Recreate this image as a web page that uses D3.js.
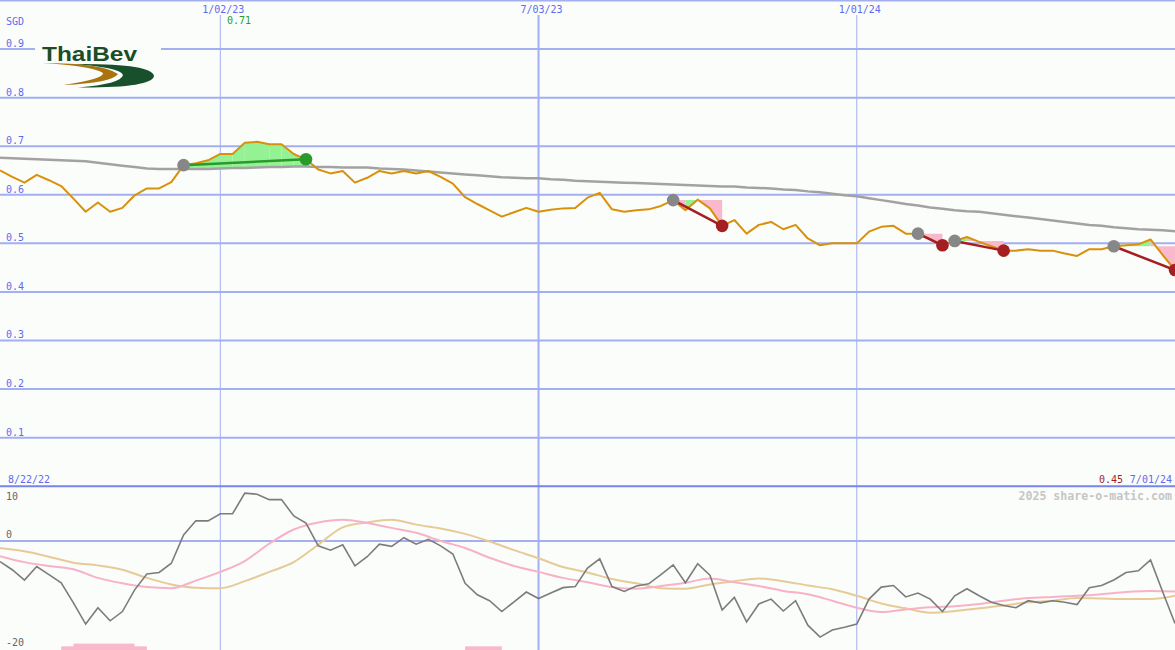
<!DOCTYPE html>
<html><head><meta charset="utf-8">
<script src="https://cdn.jsdelivr.net/npm/d3@7"></script>
<style>html,body{margin:0;padding:0;background:#fbfdfb;}svg{display:block;}</style>
</head><body>
<svg id="c" width="1175" height="650"></svg>
<script>
// ---------- data ----------
const firstWeek = "2022-08-29";
const lastWeek = "2024-07-01";
const firstLabel = "8/22/22";
const lastLabel = "7/01/24";
const currency = "SGD";

const price = [
0.650,0.637,0.625,0.641,0.630,0.618,0.592,0.565,0.584,0.565,
0.573,0.599,0.613,0.613,0.626,0.661,0.665,0.671,0.684,0.684,
0.707,0.709,0.704,0.704,0.684,0.673,0.652,0.644,0.649,0.625,
0.635,0.649,0.644,0.649,0.644,0.649,0.637,0.623,0.595,0.581,
0.568,0.555,0.564,0.573,0.565,0.569,0.572,0.573,0.594,0.604,
0.570,0.565,0.568,0.570,0.577,0.589,0.568,0.590,0.572,0.536,
0.548,0.520,0.538,0.544,0.529,0.538,0.510,0.496,0.500,0.500,
0.500,0.524,0.534,0.536,0.520,0.520,0.509,0.496,0.505,0.513,
0.503,0.494,0.485,0.485,0.488,0.485,0.485,0.479,0.474,0.488,
0.488,0.494,0.496,0.498,0.508,0.476,0.445];

const movingAvg = [
0.676,0.675,0.674,0.673,0.672,0.671,0.670,0.669,0.666,0.663,
0.660,0.657,0.654,0.653,0.653,0.653,0.653,0.653,0.654,0.655,
0.655,0.656,0.657,0.657,0.658,0.658,0.657,0.657,0.656,0.656,
0.656,0.654,0.653,0.652,0.650,0.648,0.646,0.644,0.642,0.640,
0.638,0.636,0.635,0.634,0.634,0.632,0.631,0.629,0.628,0.627,
0.626,0.625,0.624,0.623,0.622,0.621,0.620,0.619,0.618,0.617,
0.617,0.615,0.614,0.613,0.611,0.610,0.607,0.605,0.602,0.599,
0.597,0.593,0.589,0.585,0.581,0.578,0.574,0.571,0.568,0.566,
0.565,0.562,0.559,0.556,0.553,0.550,0.547,0.544,0.541,0.538,
0.536,0.533,0.531,0.529,0.528,0.527,0.525];

const oscillator = [
-3.8,-5.3,-7.2,-4.7,-6.2,-7.7,-11.4,-15.3,-12.3,-14.7,
-13.0,-9.0,-6.1,-5.8,-4.1,1.1,3.7,3.7,5.0,5.0,
8.8,8.6,7.6,7.6,4.6,3.3,-0.9,-1.7,-0.7,-4.6,
-2.9,-0.6,-1.0,0.6,-0.6,0.3,-0.9,-2.4,-7.8,-9.9,
-11.0,-13.0,-11.2,-9.4,-10.6,-9.6,-8.6,-8.4,-5.0,-3.3,
-8.4,-9.3,-8.3,-7.9,-6.2,-4.4,-7.7,-4.2,-6.3,-12.7,
-10.4,-14.9,-11.6,-10.7,-12.9,-11.0,-15.5,-17.7,-16.4,-15.9,
-15.3,-10.7,-8.5,-8.2,-10.3,-9.6,-10.7,-13.0,-10.1,-8.8,
-10.1,-11.3,-11.9,-12.3,-11.0,-11.4,-11.0,-11.3,-11.7,-8.6,
-8.2,-7.2,-5.8,-5.5,-3.5,-9.4,-15.2];

// fortnightly readings of the two smoothed lines
const signalPink = [-2.8,-3.9,-4.6,-5.2,-6.8,-7.8,-8.5,-8.7,-7.3,-5.7,-3.7,-0.5,2.1,3.4,3.9,3.3,2.4,1.5,0.0,-1.3,
-3.1,-4.6,-5.7,-6.8,-7.6,-8.5,-8.8,-8.3,-7.7,-6.9,-7.6,-8.3,-9.2,-9.8,-11.0,-12.3,-13.1,-12.6,-12.2,-12.0,
-11.6,-11.0,-10.5,-10.3,-10.1,-9.8,-9.4,-9.2,-9.3];
const signalTan = [-1.3,-1.9,-2.9,-4.0,-4.5,-5.3,-6.8,-8.0,-8.6,-8.7,-7.4,-5.7,-3.9,-0.7,2.5,3.4,3.9,3.0,2.3,1.3,
-0.1,-1.7,-3.2,-4.8,-5.8,-7.0,-7.8,-8.7,-8.8,-8.0,-7.4,-6.9,-7.4,-8.2,-8.9,-10.1,-11.5,-12.4,-13.2,-12.9,
-12.4,-11.9,-11.3,-11.0,-10.5,-10.6,-10.7,-10.7,-10.1];

const priceTicks = [0.1,0.2,0.3,0.4,0.5,0.6,0.7,0.8,0.9];
const oscTicks = [10,0,-20];
const dateTicks = ["2023-01-02","2023-07-03","2024-01-01"];
const dateTickLabels = ["1/02/23","7/03/23","1/01/24"];
const dateTickWidths = [1,2,1];

const tradeEntry = ["2022-12-12","2023-09-18","2024-02-05","2024-02-26","2024-05-27"];
const tradeExit  = ["2023-02-20","2023-10-16","2024-02-19","2024-03-25","2024-07-01"];

const barStart = ["2022-10-03","2022-10-10","2023-05-22"];
const barEnd   = ["2022-11-21","2022-11-14","2023-06-12"];
const barTop   = [-19.4,-18.9,-19.4];

// ---------- scales ----------
const W = 1175, H = 650;
const parse = d3.utcParse("%Y-%m-%d");
const iso = d3.utcFormat("%Y-%m-%d");
const weeks = d3.utcMonday.range(parse(firstWeek), d3.utcDay.offset(parse(lastWeek), 1));
const idx = new Map(weeks.map((d,i)=>[iso(d), i]));
const x = d3.scaleUtc().domain([parse(firstWeek), parse(lastWeek)]).range([0, W]);
const yP = d3.scaleLinear().domain([0, 1]).range([486.2, 0.5]);
const yO = d3.scaleLinear().domain([-20, 10]).range([649.6, 486.6]);

const svg = d3.select("#c");
const font = "DejaVu Sans Mono, monospace";
const grid = "#a3aff0", blue = "#5b6cf0", bg = "#fbfdfb";

svg.append("rect").attr("width", W).attr("height", H).attr("fill", bg);

// horizontal grid
svg.append("g").selectAll("line").data(priceTicks.concat([1])).join("line")
  .attr("x1", 0).attr("x2", W).attr("y1", d=>yP(d)).attr("y2", d=>yP(d))
  .attr("stroke", grid).attr("stroke-width", 2);
svg.append("line").attr("x1",0).attr("x2",W).attr("y1",yO(0)).attr("y2",yO(0))
  .attr("stroke", grid).attr("stroke-width", 2);

// vertical date lines
svg.append("g").selectAll("line").data(dateTicks).join("line")
  .attr("x1", d=>x(parse(d))).attr("x2", d=>x(parse(d)))
  .attr("y1", 15).attr("y2", H)
  .attr("stroke", grid).attr("stroke-width", (d,i)=>dateTickWidths[i]);

// separator between panels
svg.append("line").attr("x1",0).attr("x2",W).attr("y1",yP(0)).attr("y2",yP(0))
  .attr("stroke", "#7784ea").attr("stroke-width", 2);

// ---------- logo ----------
const logo = svg.append("g");
logo.append("rect").attr("x",35).attr("y",38).attr("width",126).attr("height",54).attr("fill",bg);
logo.append("path").attr("d","M70,64 Q152,63 154,76 Q152,88 78,87.5 Q121,84 123,75 Q120,67 70,64 Z").attr("fill","#17502a");
logo.append("path").attr("d","M42,63 Q103,63 118,74 Q112,83 63,85 Q104,79 103,73 Q92,66 42,63 Z").attr("fill","#a9740f");
logo.append("text").attr("x",42).attr("y",61).attr("font-family","Liberation Sans, Arial, sans-serif")
  .attr("font-weight","bold").attr("font-size",21).attr("textLength",95).attr("lengthAdjust","spacingAndGlyphs")
  .attr("fill","#1b4d26").text("ThaiBev");

// ---------- price panel ----------
const P = weeks.map((d,i)=>({d, v: price[i], m: movingAvg[i]}));

// trade fills
const fillG = svg.append("g");
tradeEntry.forEach((e, t) => {
  const i0 = idx.get(e), i1 = idx.get(tradeExit[t]);
  const level = price[i0];
  for (let i = i0; i < i1; i++) {
    const seg = [i, i+1].map(k => ({d: weeks[k], top: price[k], base: Math.min(level, movingAvg[k])}));
    fillG.append("path")
      .attr("d", d3.area().x(s=>x(s.d)).y0(s=>yP(s.base)).y1(s=>yP(s.top))(seg))
      .attr("fill", price[i+1] >= level ? "#94f294" : "#f9b8cb");
  }
});

// moving average
svg.append("path").datum(P).attr("fill","none").attr("stroke","#a2a2a2").attr("stroke-width",2.5)
  .attr("d", d3.line().x(p=>x(p.d)).y(p=>yP(p.m)));
// price line
svg.append("path").datum(P).attr("fill","none").attr("stroke","#d9910b").attr("stroke-width",2)
  .attr("stroke-linejoin","round")
  .attr("d", d3.line().x(p=>x(p.d)).y(p=>yP(p.v)));

// trade lines & dots
const tradeG = svg.append("g");
tradeEntry.forEach((e, t) => {
  const i0 = idx.get(e), i1 = idx.get(tradeExit[t]);
  const win = price[i1] >= price[i0];
  const col = win ? "#2a9a2a" : "#a51e22";
  tradeG.append("line").attr("x1", x(weeks[i0])).attr("y1", yP(price[i0]))
    .attr("x2", x(weeks[i1])).attr("y2", yP(price[i1])).attr("stroke", col).attr("stroke-width", 2.5);
  tradeG.append("circle").attr("cx", x(weeks[i0])).attr("cy", yP(price[i0])).attr("r", 6.3).attr("fill", "#878787");
  tradeG.append("circle").attr("cx", x(weeks[i1])).attr("cy", yP(price[i1])).attr("r", 6.3).attr("fill", col);
});

// ---------- oscillator panel ----------
const lowG = svg.append("g");
barStart.forEach((s, i) => {
  lowG.append("rect").attr("x", x(parse(s))).attr("width", x(parse(barEnd[i])) - x(parse(s)))
    .attr("y", yO(barTop[i])).attr("height", yO(-20) - yO(barTop[i]) + 1).attr("fill", "#f9b8cb");
});
const fortnights = weeks.filter((d,i)=>i%2===0);
lowG.append("path").datum(signalTan).attr("fill","none").attr("stroke","#e6cb98").attr("stroke-width",2)
  .attr("d", d3.line().curve(d3.curveMonotoneX).x((v,i)=>x(fortnights[i])).y(v=>yO(v)));
lowG.append("path").datum(signalPink).attr("fill","none").attr("stroke","#f8b2c8").attr("stroke-width",2)
  .attr("d", d3.line().curve(d3.curveMonotoneX).x((v,i)=>x(fortnights[i])).y(v=>yO(v)));
lowG.append("path").datum(oscillator).attr("fill","none").attr("stroke","#7c7c7c").attr("stroke-width",1.6)
  .attr("d", d3.line().x((v,i)=>x(weeks[i])).y(v=>yO(v)));

// ---------- text ----------
const T = (tx, ty, str, col, anchor, size, weight) => svg.append("text")
  .attr("x", tx).attr("y", ty).attr("fill", col).attr("text-anchor", anchor || "start")
  .attr("font-family", font).attr("font-size", size || 10).attr("font-weight", weight || "normal").text(str);

priceTicks.forEach(v => T(6, yP(v) - 2, d3.format(".1f")(v), blue));
T(6, 25, currency, blue);
dateTicks.forEach((d,i) => T(x(parse(d)) + 3, 13, dateTickLabels[i], blue, "middle"));
T(8, 483, firstLabel, blue);
T(1172, 483, lastLabel, blue, "end");
const fmt = d3.format(".2f");
T(1123, 483, fmt(price[price.length-1]), "#a51e22", "end");
const mi = d3.maxIndex(price);
T(x(weeks[mi]) - 6, 24, fmt(price[mi]), "#2a9a2a", "end");
T(1172, 500, "2025 share-o-matic.com", "#c6c6c6", "end", 11.6, "bold");
T(6, 500, String(oscTicks[0]), "#666666");
T(6, yO(oscTicks[1]) - 3, String(oscTicks[1]), "#666666");
T(6, 646, String(oscTicks[2]), "#666666");
</script>
</body></html>
